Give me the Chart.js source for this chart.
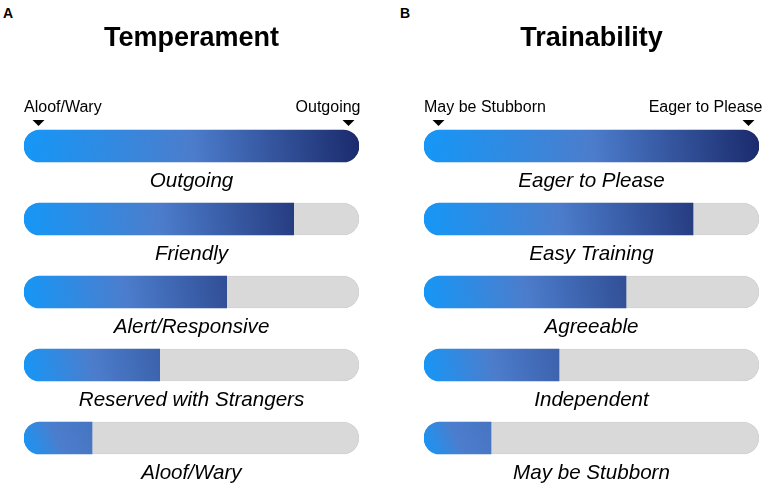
<!DOCTYPE html>
<html>
<head>
<meta charset="utf-8">
<script src="https://cdn.jsdelivr.net/npm/chart.js@4.4.1/dist/chart.umd.min.js"></script>
<style>
  html, body { margin: 0; padding: 0; background: #fff; }
  body { width: 765px; height: 486px; position: relative; overflow: hidden; font-family: "Liberation Sans", Arial, sans-serif; }
  .panel-letter { position: absolute; top: 5px; font-weight: bold; font-size: 14px; }
  .box { position: absolute; top: 0; height: 486px; }
</style>
</head>
<body>
<div class="panel-letter" style="left:3px">A</div>
<div class="panel-letter" style="left:400px">B</div>
<div class="box" style="left:0; width:380px"><canvas id="chartTemperament"></canvas></div>
<div class="box" style="left:400px; width:365px"><canvas id="chartTrainability"></canvas></div>
<script>
const temperamentLabels = ['Outgoing', 'Friendly', 'Alert/Responsive', 'Reserved with Strangers', 'Aloof/Wary'];
const temperamentValues = [100, 80.5, 60.5, 40.5, 20.3];
const temperamentEnds = ['Aloof/Wary', 'Outgoing'];

const trainabilityLabels = ['Eager to Please', 'Easy Training', 'Agreeable', 'Independent', 'May be Stubborn'];
const trainabilityValues = [100, 80.3, 60.3, 40.3, 20];
const trainabilityEnds = ['May be Stubborn', 'Eager to Please'];

const trackValues = [100, 100, 100, 100, 100];

const FONT = '"Liberation Sans", Arial, sans-serif';
const BAR_H = 32;

// mix two hex colours
function mix(a, b, t) {
    const pa = [1, 3, 5].map(i => parseInt(a.substr(i, 2), 16));
    const pb = [1, 3, 5].map(i => parseInt(b.substr(i, 2), 16));
    const c = pa.map((v, i) => Math.round(v + (pb[i] - v) * t));
    return 'rgb(' + c.join(',') + ')';
}

const fillColor = (ctx) => {
    const chart = ctx.chart;
    if (!chart.chartArea || !chart.scales.x) return '#2f6fd0';
    const x = chart.scales.x, y = chart.scales.y;
    const v = ctx.raw;
    const x0 = x.getPixelForValue(0), x1 = x.getPixelForValue(v);
    const yc = y.getPixelForValue(ctx.dataIndex);
    const g = chart.ctx.createLinearGradient(x0, yc + BAR_H / 2, x1, yc - BAR_H / 2);
    g.addColorStop(0, '#1597f7');
    g.addColorStop(0.5, '#4c7dcc');
    g.addColorStop(1, mix('#4c7dcc', '#1b2a6c', Math.max(0, (v - 10) / 90)));
    return g;
};

const fillRadius = (ctx) => ctx.raw >= 100
    ? 16
    : { topLeft: 16, bottomLeft: 16, topRight: 0, bottomRight: 0 };

// italic captions under each bar + end markers above the first one
const captionPlugin = {
    id: 'captions',
    afterDatasetsDraw(chart, args, opts) {
        const c = chart.ctx;
        const bars = chart.getDatasetMeta(0).data;
        const x = chart.scales.x;
        const mid = (x.getPixelForValue(0) + x.getPixelForValue(100)) / 2;
        c.save();
        c.fillStyle = '#000';
        c.textBaseline = 'alphabetic';
        c.textAlign = 'center';
        c.font = 'italic 20.6px ' + FONT;
        bars.forEach((b, i) => {
            c.fillText(chart.data.labels[i], mid, b.y + 41);
        });

        const top = bars[0].y - BAR_H / 2;
        const left = x.getPixelForValue(0), right = x.getPixelForValue(100);
        c.font = '16px ' + FONT;
        c.textAlign = 'left';
        c.fillText(opts.ends[0], left, top - 18);
        c.textAlign = 'right';
        c.fillText(opts.ends[1], right + opts.rightShift, top - 18);

        [left + 14.5, right - 10.5].forEach(px => {
            c.beginPath();
            c.moveTo(px - 6, top - 10);
            c.lineTo(px + 6, top - 10);
            c.lineTo(px, top - 4);
            c.closePath();
            c.fill();
        });
        c.restore();
    }
};

function makeChart(id, title, labels, values, ends, padRight, rightShift) {
    return new Chart(document.getElementById(id), {
        type: 'bar',
        data: {
            labels: labels,
            datasets: [{
                data: trackValues,
                backgroundColor: '#d9d9d9',
                borderColor: '#d2d2d2',
                borderWidth: 1,
                borderRadius: 16,
                borderSkipped: false,
                order: 2
            }, {
                data: values,
                backgroundColor: fillColor,
                borderWidth: 0,
                borderRadius: fillRadius,
                borderSkipped: false,
                order: 1
            }]
        },
        options: {
            indexAxis: 'y',
            responsive: true,
            maintainAspectRatio: false,
            animation: false,
            events: [],
            datasets: { bar: { grouped: false, barThickness: BAR_H } },
            layout: { padding: { top: 0, left: 24, right: padRight, bottom: 11.5 } },
            scales: {
                x: { display: false, min: 0, max: 100 },
                y: { display: false }
            },
            plugins: {
                legend: { display: false },
                tooltip: { enabled: false },
                title: {
                    display: true,
                    text: title,
                    color: '#000',
                    font: { family: FONT, size: 27, weight: 'bold' },
                    padding: { top: 22.7, bottom: 54.4 }
                },
                captions: { ends: ends, rightShift: rightShift }
            }
        },
        plugins: [captionPlugin]
    });
}

makeChart('chartTemperament', 'Temperament', temperamentLabels, temperamentValues, temperamentEnds, 21, 1.5);
makeChart('chartTrainability', 'Trainability', trainabilityLabels, trainabilityValues, trainabilityEnds, 6, 3.5);
</script>
</body>
</html>
